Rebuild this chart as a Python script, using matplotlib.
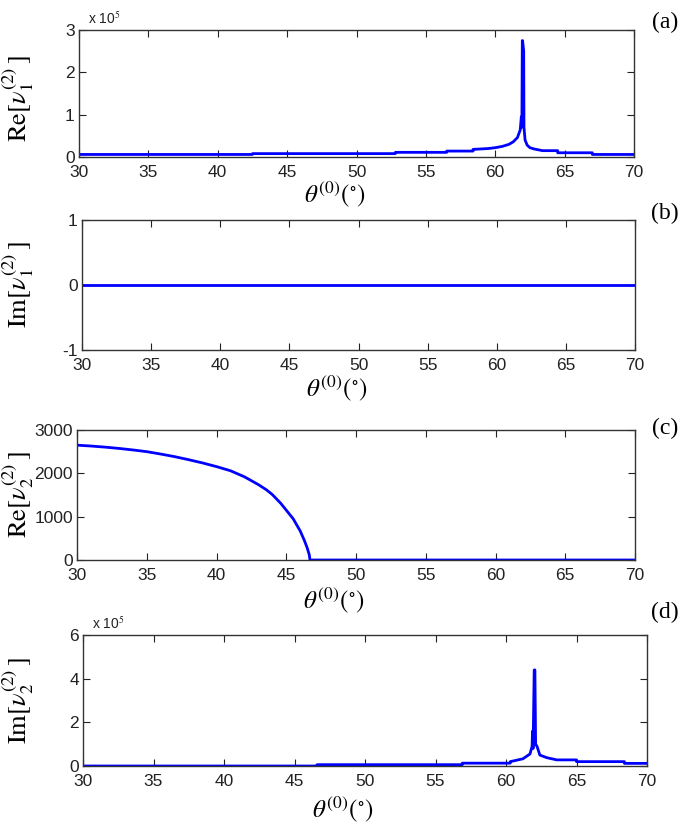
import matplotlib
matplotlib.use('Agg')
import matplotlib.pyplot as plt

# angle of incidence (degrees) and the four response curves

# (a) Re[v1], in units of 1e5
theta_a = [30, 42.5, 42.5, 52.8, 52.8, 56.5, 56.5, 58.4, 58.4, 59.5, 60.0, 60.5, 61.0, 61.3,
           61.6, 61.8, 61.88, 61.9, 61.92, 61.95, 61.97, 62.05, 62.07, 62.15, 62.3, 62.5,
           62.8, 63.4, 64.5, 64.5, 67.0, 67.0, 70]
re_v1 = [0.06, 0.06, 0.08, 0.08, 0.11, 0.11, 0.14, 0.14, 0.18, 0.2, 0.22, 0.25, 0.3, 0.36,
         0.46, 0.64, 0.95, 0.7, 0.8, 2.75, 2.75, 2.5, 0.7, 0.4, 0.28, 0.22,
         0.19, 0.15, 0.15, 0.1, 0.1, 0.06, 0.06]

# (b) Im[v1]
theta_b = [30, 70]
im_v1 = [0, 0]

# (c) Re[v2]
theta_c = [30, 31, 32, 33, 34, 35, 36, 37, 38, 39, 40, 41, 42, 43, 43.6, 44, 44.6, 45,
           45.5, 46, 46.3, 46.5, 46.65, 46.7, 70]
re_v2 = [2650, 2630, 2605, 2575, 2540, 2500, 2445, 2385, 2315, 2240, 2155, 2060, 1920, 1740,
         1615, 1510, 1310, 1150, 950, 670, 450, 280, 120, 0, 0]

# (d) Im[v2], in units of 1e5
theta_d = [30, 46.6, 46.6, 56.9, 56.9, 60.3, 60.3, 61.2, 61.7, 61.85, 61.88, 61.92, 62.0,
           62.05, 62.1, 62.2, 62.4, 62.9, 63.6, 65.0, 65.0, 68.4, 68.4, 70]
im_v2 = [0.0, 0.0, 0.06, 0.06, 0.13, 0.13, 0.2, 0.33, 0.55, 0.9, 1.6, 0.8, 4.4,
         4.4, 1.0, 0.9, 0.5, 0.38, 0.28, 0.28, 0.2, 0.2, 0.12, 0.12]

xticks = [30, 35, 40, 45, 50, 55, 60, 65, 70]

plt.rcParams['font.family'] = ['Liberation Sans', 'DejaVu Sans']
plt.rcParams['mathtext.fontset'] = 'stix'
plt.rcParams['axes.unicode_minus'] = False

W, H = 685, 825
fig = plt.figure(figsize=(W / 100, H / 100), dpi=100)


def px_axes(left, right, top, bottom):
    return fig.add_axes([left / W, 1 - bottom / H, (right - left) / W, (bottom - top) / H])


panels = [
    dict(rect=(79, 634, 30, 157), x=theta_a, y=re_v1, ylim=(0, 3), yticks=[0, 1, 2, 3],
         ylabel=r'$\mathrm{Re}[\nu_1^{(2)}\,]$', tag='(a)', tag_y=22, sci=True,
         ylab_y=0.46, xlab_y=-0.29),
    dict(rect=(82, 635, 220, 350), x=theta_b, y=im_v1, ylim=(-1, 1), yticks=[-1, 0, 1],
         ylabel=r'$\mathrm{Im}[\nu_1^{(2)}\,]$', tag='(b)', tag_y=213, sci=False,
         ylab_y=0.5, xlab_y=-0.29),
    dict(rect=(77, 635, 430, 560), x=theta_c, y=re_v2, ylim=(0, 3000),
         yticks=[0, 1000, 2000, 3000],
         ylabel=r'$\mathrm{Re}[\nu_2^{(2)}\,]$', tag='(c)', tag_y=428, sci=False,
         ylab_y=0.5, xlab_y=-0.31),
    dict(rect=(83, 647, 635, 766), x=theta_d, y=im_v2, ylim=(0, 6), yticks=[0, 2, 4, 6],
         ylabel=r'$\mathrm{Im}[\nu_2^{(2)}\,]$', tag='(d)', tag_y=612, sci=True,
         ylab_y=0.5, xlab_y=-0.33),
]

for p in panels:
    left, right, top, bottom = p['rect']
    ax = px_axes(left, right, top, bottom)
    ax.plot(p['x'], p['y'], color=(0, 0, 1), lw=2)
    ax.set_xlim(30, 70)
    ax.set_ylim(*p['ylim'])
    ax.set_xticks(xticks)
    ax.set_yticks(p['yticks'])
    ax.tick_params(direction='in', top=True, right=True, length=5, width=0.8,
                   labelsize=12.5, colors='#222222')
    ax.tick_params(axis='x', pad=6)
    ax.tick_params(axis='y', pad=3)
    for s in ax.spines.values():
        s.set_color('#333333')
        s.set_linewidth(1)

    ax.set_ylabel(p['ylabel'], fontsize=19)
    ax.yaxis.set_label_coords(-(left - 18) / (right - left), p['ylab_y'])
    ax.yaxis.label.set_va('center')

    ax.set_xlabel(r'$\theta^{(0)}(^{\circ})$', fontsize=18)
    ax.xaxis.set_label_coords(0.46, p['xlab_y'])
    ax.xaxis.label.set_va('center')

    if p['sci']:
        ax.text(9 / (right - left), 1.02, r'x 10$^{5}$', transform=ax.transAxes,
                fontsize=10, ha='left', va='bottom', color='#222222')

    fig.text(665 / W, 1 - p['tag_y'] / H, p['tag'], fontsize=17, ha='center', va='center',
             family='Liberation Serif')

fig.savefig('out.png', dpi=100)
